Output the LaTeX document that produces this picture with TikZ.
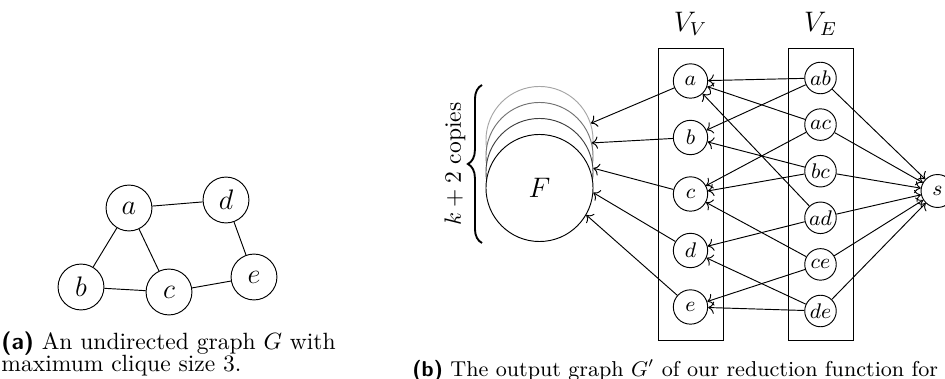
\documentclass[tikz,border=0pt]{standalone}
\usepackage{amsmath}
\usepackage{tikz}
\usetikzlibrary{arrows.meta, positioning, calc, decorations.pathreplacing}
\tikzset{
  gnode/.style={circle, draw, minimum size=19.5pt, inner sep=0pt, font=\large},
  vnode/.style={circle, draw, minimum size=14.6pt, inner sep=0pt, font=\small},
  enode/.style={circle, draw, minimum size=13.4pt, inner sep=0pt, font=\small},
  fnode/.style={circle, draw, fill=white, minimum size=45.5pt, inner sep=0pt, font=\large},
  groupbox/.style={draw, minimum width=27.6pt, minimum height=124.1pt, inner sep=0pt},
  grouplabel/.style={font=\large},
  arr/.style={->},
  captline/.style={anchor=base west, inner sep=0pt},
  captlabel/.style={font=\sffamily\bfseries}
}

\begin{document}
\begin{tikzpicture}[x=0.425pt, y=-0.425pt]
  \useasboundingbox (0,0) rectangle (945,379);

  \node[gnode] (ga) at (129,208) {$a$};
  \node[gnode] (gd) at (226,200) {$d$};
  \node[gnode] (gb) at (81,287) {$b$};
  \node[gnode] (gc) at (169,292) {$c$};
  \node[gnode] (ge) at (254,277) {$e$};
  \draw (ga) -- (gd);
  \draw (ga) -- (gb);
  \draw (ga) -- (gc);
  \draw (gb) -- (gc);
  \draw (gc) -- (ge);
  \draw (gd) -- (ge);

  \node[captline] (capa1) at (1,349.5) {\textsf{\textbf{(a)}} An undirected graph $G$ with};
  \node[captline] (capa2) at (1,371.5) {maximum clique size 3.};

  \node[groupbox] (boxv) at (690.5,194) {};
  \node[groupbox] (boxe) at (820.5,194) {};
  \node[grouplabel] (lvv) at (690.5,24) {$V_V$};
  \node[grouplabel] (lve) at (820.5,24) {$V_E$};

  \node[fnode, draw=black!35] (F3) at (539.5,140) {};
  \node[fnode, draw=black!55] (F2) at (539.5,156) {};
  \node[fnode, draw=black!75] (F1) at (539.5,172) {};
  \node[fnode] (F) at (539.5,188) {$F$};

  \coordinate (btop) at (482,85);
  \coordinate (bbot) at (482,243);
  \draw[thick, decorate, decoration={brace, amplitude=6pt}] (bbot) -- (btop);
  \node[rotate=90] (copies) at (455,164) {$k+2$ copies};

  \node[vnode] (va) at (690.5,81) {$a$};
  \node[vnode] (vb) at (690.5,137.5) {$b$};
  \node[vnode] (vc) at (690.5,194) {$c$};
  \node[vnode] (vd) at (690.5,250.5) {$d$};
  \node[vnode] (ve) at (690.5,307) {$e$};

  \node[enode] (eab) at (820.5,78) {$ab$};
  \node[enode] (eac) at (820.5,124.6) {$ac$};
  \node[enode] (ebc) at (820.5,171.2) {$bc$};
  \node[enode] (ead) at (820.5,217.8) {$ad$};
  \node[enode] (ece) at (820.5,264.4) {$ce$};
  \node[enode] (ede) at (820.5,311) {$de$};

  \node[enode, minimum size=14pt] (s) at (937.5,191) {$s$};

  \draw[arr] (va) -- (F3.18);
  \draw[arr] (vb) -- (F2.14);
  \draw[arr] (vc) -- (F1.4);
  \draw[arr] (vd) -- (F.-5);
  \draw[arr] (ve) -- (F.-30);

  \draw[arr] (eab) -- (va);
  \draw[arr] (eab) -- (vb);
  \draw[arr] (eac) -- (va);
  \draw[arr] (eac) -- (vc);
  \draw[arr] (ebc) -- (vb);
  \draw[arr] (ebc) -- (vc);
  \draw[arr] (ead) -- (va);
  \draw[arr] (ead) -- (vd);
  \draw[arr] (ece) -- (vc);
  \draw[arr] (ece) -- (ve);
  \draw[arr] (ede) -- (vd);
  \draw[arr] (ede) -- (ve);

  \draw[arr] (eab) -- (s);
  \draw[arr] (eac) -- (s);
  \draw[arr] (ebc) -- (s);
  \draw[arr] (ead) -- (s);
  \draw[arr] (ece) -- (s);
  \draw[arr] (ede) -- (s);

  \node[captline, font=\fontsize{9.15pt}{11pt}\selectfont] (capb) at (412,376.5) {\textsf{\textbf{(b)}} The output graph $G'$ of our reduction function for};
\end{tikzpicture}
\end{document}
